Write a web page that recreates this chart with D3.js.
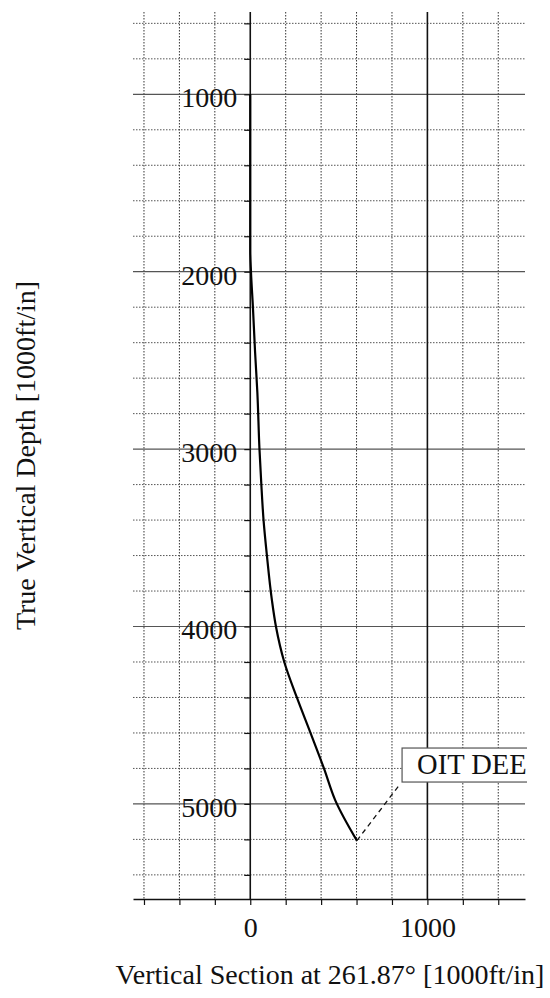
<!DOCTYPE html>
<html>
<head>
<meta charset="utf-8">
<script src="https://cdn.jsdelivr.net/npm/d3@7"></script>
<style>
  body { margin: 0; background: #fff; }
  svg text { font-family: "Liberation Serif", "Times New Roman", serif; fill: #111; }
</style>
</head>
<body>
<div id="chart"></div>
<script>
// well path: vertical section (ft) and true vertical depth (ft)
var vsec = [0, 0, 4, 15, 27, 40, 52, 62, 75, 94, 122, 145, 192, 263, 340, 416, 480, 602];
var tvd  = [1000, 1880, 2000, 2200, 2450, 2680, 3000, 3190, 3400, 3600, 3850, 4000, 4200, 4400, 4600, 4800, 4980, 5207];

var xTicks = d3.range(-600, 1401, 200);
var yTicks = d3.range(600, 5401, 200);
var xLabels = [0, 1000];
var yLabels = [1000, 2000, 3000, 4000, 5000];

var targetName = "OIT DEE";
var targetAt   = [857, 4685];   // callout box corner, data units

var W = 550, H = 998;
var plot = {left: 133, right: 525, top: 12, bottom: 899};

var x = d3.scaleLinear().domain([-662, 1551]).range([plot.left, plot.right]);
var y = d3.scaleLinear().domain([536, 5536]).range([plot.top, plot.bottom]);

var svg = d3.select("#chart").append("svg")
    .attr("width", W)
    .attr("height", H);

svg.append("clipPath").attr("id", "clip")
  .append("rect")
    .attr("x", plot.left).attr("y", plot.top)
    .attr("width", plot.right - plot.left + 2)
    .attr("height", plot.bottom - plot.top);

var grid = svg.append("g").attr("class", "grid");

// minor grid first, dotted
grid.selectAll("line.vminor")
    .data(xTicks.filter(function (d) { return d % 1000 !== 0; }))
  .enter().append("line")
    .attr("class", "vminor")
    .attr("x1", function (d) { return x(d); }).attr("x2", function (d) { return x(d); })
    .attr("y1", plot.top).attr("y2", plot.bottom)
    .attr("stroke", "#333").attr("stroke-width", 1).attr("stroke-dasharray", "1.5,1.5");

grid.selectAll("line.hminor")
    .data(yTicks.filter(function (d) { return d % 1000 !== 0; }))
  .enter().append("line")
    .attr("class", "hminor")
    .attr("x1", plot.left).attr("x2", plot.right)
    .attr("y1", function (d) { return y(d); }).attr("y2", function (d) { return y(d); })
    .attr("stroke", "#555").attr("stroke-width", 1).attr("stroke-dasharray", "1.5,1.5");

grid.selectAll("line.hmajor")
    .data(yTicks.filter(function (d) { return d % 1000 === 0; }))
  .enter().append("line")
    .attr("class", "hmajor")
    .attr("x1", plot.left).attr("x2", plot.right)
    .attr("y1", function (d) { return y(d); }).attr("y2", function (d) { return y(d); })
    .attr("stroke", "#555").attr("stroke-width", 1.2);

grid.selectAll("line.vmajor")
    .data(xTicks.filter(function (d) { return d % 1000 === 0; }))
  .enter().append("line")
    .attr("class", "vmajor")
    .attr("x1", function (d) { return x(d); }).attr("x2", function (d) { return x(d); })
    .attr("y1", plot.top).attr("y2", plot.bottom)
    .attr("stroke", "#111").attr("stroke-width", 1.6);

// axes
var fmtX = function (d) { return xLabels.indexOf(d) > -1 ? d : ""; };
var fmtY = function (d) { return yLabels.indexOf(d) > -1 ? d : ""; };

var xAxis = svg.append("g")
    .attr("transform", "translate(0," + plot.bottom + ")")
    .call(d3.axisBottom(x).tickValues(xTicks).tickFormat(fmtX)
            .tickSize(6).tickSizeOuter(0).tickPadding(12));
xAxis.select(".domain").attr("stroke", "#111").attr("stroke-width", 1.6);
xAxis.selectAll(".tick line").attr("stroke", "#111").attr("stroke-width", 1.2);
xAxis.selectAll(".tick text").attr("font-size", 28).attr("font-family", null);

var yAxis = svg.append("g")
    .attr("transform", "translate(" + x(0) + ",0)")
    .call(d3.axisLeft(y).tickValues(yTicks).tickFormat(fmtY)
            .tickSize(6).tickSizeOuter(0).tickPadding(7));
yAxis.select(".domain").remove();
yAxis.selectAll(".tick line").attr("stroke", "#111").attr("stroke-width", 1.2);
yAxis.selectAll(".tick text").attr("font-size", 28).attr("font-family", null).attr("dy", "0.44em");

// well path
var pts = vsec.map(function (v, i) { return [v, tvd[i]]; });
var line = d3.line()
    .x(function (d) { return x(d[0]); })
    .y(function (d) { return y(d[1]); })
    .curve(d3.curveMonotoneY);

var marks = svg.append("g").attr("clip-path", "url(#clip)");

marks.append("path")
    .datum(pts)
    .attr("d", line)
    .attr("fill", "none")
    .attr("stroke", "#000")
    .attr("stroke-width", 2.2);

// target callout
var end = pts[pts.length - 1];
var bx = x(targetAt[0]), by = y(targetAt[1]);

marks.append("line")
    .attr("x1", x(end[0])).attr("y1", y(end[1]))
    .attr("x2", bx - 2).attr("y2", by + 36)
    .attr("stroke", "#111").attr("stroke-width", 1.3)
    .attr("stroke-dasharray", "5,4");

marks.append("rect")
    .attr("x", bx).attr("y", by)
    .attr("width", 150).attr("height", 34)
    .attr("fill", "#fff")
    .attr("stroke", "#555").attr("stroke-width", 1.2);

marks.append("text")
    .attr("x", bx + 15).attr("y", by + 26)
    .attr("font-size", 28.5)
    .text(targetName);

// axis titles
svg.append("text")
    .attr("x", (plot.left + plot.right) / 2 + 1)
    .attr("y", 984)
    .attr("text-anchor", "middle")
    .attr("font-size", 28)
    .text("Vertical Section at 261.87° [1000ft/in]");

svg.append("text")
    .attr("transform", "translate(35," + (plot.top + plot.bottom) / 2 + ") rotate(-90)")
    .attr("text-anchor", "middle")
    .attr("font-size", 28)
    .text("True Vertical Depth [1000ft/in]");
</script>
</body>
</html>
